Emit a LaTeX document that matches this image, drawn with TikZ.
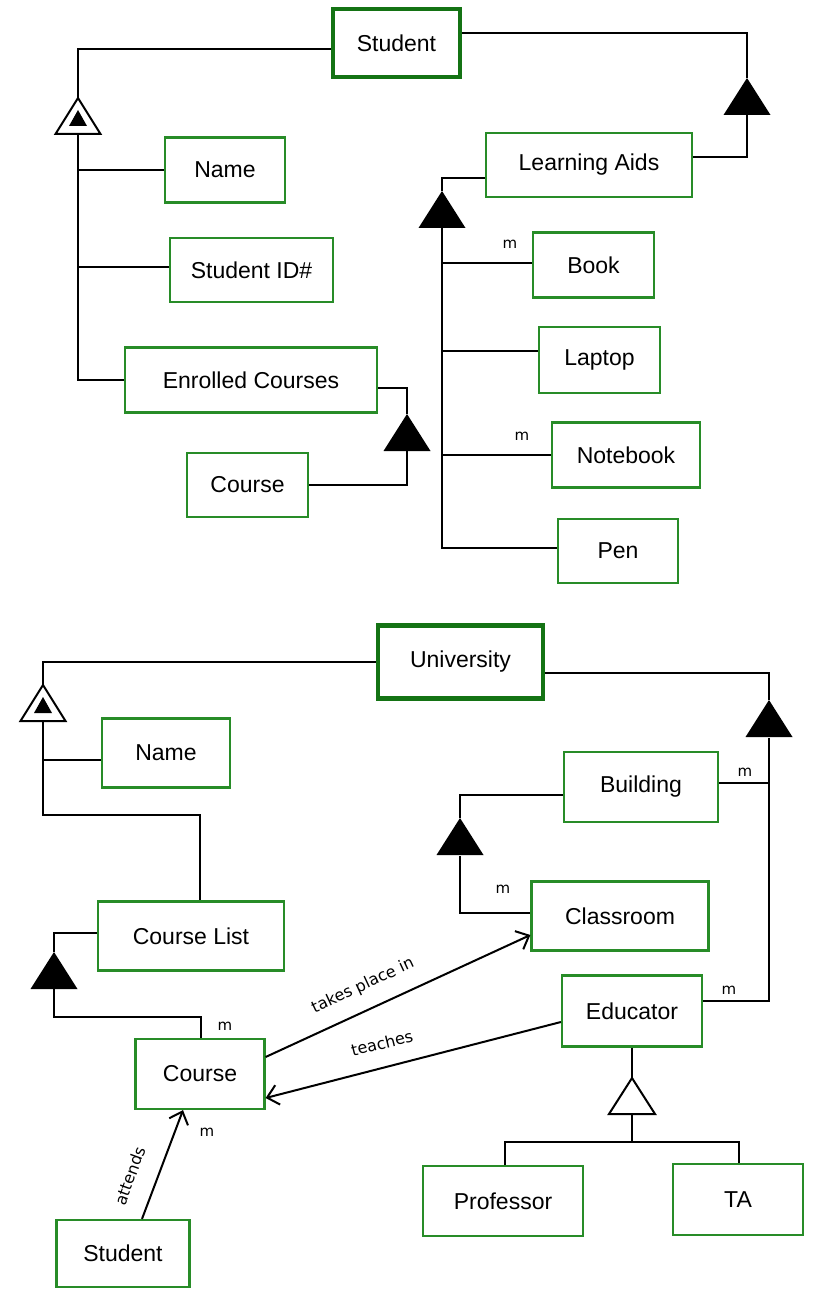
\documentclass[tikz,border=0pt]{standalone}
\usepackage{fontspec}
\setmainfont{Liberation Sans}
\newfontfamily\tagfont{DejaVu Sans}
\usetikzlibrary{arrows.meta}
\definecolor{entgreen}{RGB}{40,140,40}
\definecolor{rootgreen}{RGB}{20,115,20}
\newcommand{\boxfont}{\fontsize{23}{27}\selectfont}
\newcommand{\mfont}{\tagfont\fontsize{15}{18}\selectfont}
\newcommand{\relfont}{\tagfont\fontsize{16}{19}\selectfont}
\begin{document}
\begin{tikzpicture}[x=1pt,y=-1pt,
  ent/.style 2 args={draw=entgreen, line width=2.2pt, fill=white, inner sep=0pt,
    minimum width=#1pt, minimum height=#2pt, font=\boxfont},
  root/.style 2 args={ent={#1}{#2}, draw=rootgreen, line width=4.5pt},
  link/.style={line width=2pt, black},
  arr/.style={link, -{Straight Barb[length=11pt,width=20pt]}},
  mult/.style={font=\mfont, inner sep=0pt},
  rel/.style={font=\relfont, inner sep=0pt},
  solidtri/.pic={\fill[black] (0,0) -- (-23.5,37) -- (23.5,37) -- cycle;},
  opentri/.pic={\draw[line width=2pt, fill=white, line join=miter] (0,0) -- (-23,36) -- (23,36) -- cycle;},
  doubletri/.pic={\draw[line width=2pt, fill=white, line join=miter] (0,0) -- (-22.5,36) -- (22.5,36) -- cycle;
                  \fill[black] (0,12) -- (-9,28) -- (9,28) -- cycle;}
]
\useasboundingbox (0,0) rectangle (815,1289);

% ---------------- Student aggregate ----------------
\node[root={127}{68}] (stuA) at (396.5,43) {Student};
\node[ent={120}{65}] (nameA) at (225,170) {Name};
\node[ent={163}{64}] (sid) at (251.5,270) {Student ID\#};
\node[ent={252}{65}] (enr) at (251,380) {Enrolled Courses};
\node[ent={121}{64}] (crsA) at (247.5,485) {Course};
\node[ent={206}{64}] (la) at (589,165) {Learning Aids};
\node[ent={121}{65}] (book) at (593.5,265) {Book};
\node[ent={121}{66}] (laptop) at (599.5,360) {Laptop};
\node[ent={148}{65}] (notebook) at (626,455) {Notebook};
\node[ent={120}{64}] (pen) at (618,551) {Pen};

\coordinate (t1) at (78,98);   \coordinate (t1b) at (78,134);
\coordinate (t2) at (407,414); \coordinate (t2b) at (407,451);
\coordinate (t3) at (747,78);  \coordinate (t3b) at (747,115);
\coordinate (t4) at (442,191); \coordinate (t4b) at (442,228);

\draw[link] ([yshift=-6pt]stuA.west) -| (t1);
\draw[link] (t1b) -- (enr.west -| t1b) -- (enr.west);
\draw[link] (nameA.west -| t1b) -- (nameA.west);
\draw[link] ([yshift=3pt]sid.west -| t1b) -- ([yshift=3pt]sid.west);
\draw[link] ([yshift=-8pt]enr.east) -| (t2);
\draw[link] (crsA.east) -| (t2b);
\draw[link] ([yshift=10pt]stuA.east) -| (t3);
\draw[link] (t3b) |- ([yshift=8pt]la.east);
\draw[link] ([yshift=-13pt]la.west) -| (t4);
\draw[link] (t4b) -- ([yshift=3pt]pen.west -| t4b) -- ([yshift=3pt]pen.west);
\draw[link] ([yshift=2pt]book.west -| t4b) -- ([yshift=2pt]book.west);
\draw[link] ([yshift=9pt]laptop.west -| t4b) -- ([yshift=9pt]laptop.west);
\draw[link] (notebook.west -| t4b) -- (notebook.west);

\pic at (t1) {doubletri};
\pic at (t2) {solidtri};
\pic at (t3) {solidtri};
\pic at (t4) {solidtri};

\node[mult] (mBook) at (510,244) {m};
\node[mult] (mNote) at (522,436) {m};

% ---------------- University aggregate ----------------
\node[root={165}{73}] (uni) at (460.5,662) {University};
\node[ent={128}{69}] (nameB) at (166,753) {Name};
\node[ent={186}{69}] (clist) at (191,936) {Course List};
\node[ent={129}{70}] (crsB) at (200,1074) {Course};
\node[ent={133}{67}] (stuB) at (123,1253.5) {Student};
\node[ent={154}{70}] (bldg) at (641,787) {Building};
\node[ent={177}{69}] (class) at (620,916) {Classroom};
\node[ent={140}{71}] (edu) at (632,1011) {Educator};
\node[ent={160}{70}] (prof) at (503,1201) {Professor};
\node[ent={130}{71}] (ta) at (738,1199.5) {TA};

\coordinate (t5) at (43,685);  \coordinate (t5b) at (43,721);
\coordinate (t6) at (769,700); \coordinate (t6b) at (769,738);
\coordinate (t7) at (460,818); \coordinate (t7b) at (460,856);
\coordinate (t8) at (54,952);  \coordinate (t8b) at (54,989);
\coordinate (t9) at (632,1078); \coordinate (t9b) at (632,1113);
\coordinate (split) at (632,1142);
\coordinate (cl) at (43,815);
\coordinate (cs) at (201,1017);

\draw[link] (uni.west) -| (t5);
\draw[link] (t5b) -- (cl) -| ([xshift=9pt]clist.north);
\draw[link] ([yshift=-7pt]nameB.west -| t5b) -- ([yshift=-7pt]nameB.west);
\draw[link] ([yshift=-11pt]uni.east) -| (t6);
\draw[link] (t6b) |- ([yshift=10pt]edu.east);
\draw[link] ([yshift=4pt]bldg.east -| t6b) -- ([yshift=4pt]bldg.east);
\draw[link] ([yshift=-8pt]bldg.west) -| (t7);
\draw[link] (t7b) |- ([yshift=3pt]class.west);
\draw[link] ([yshift=3pt]clist.west) -| (t8);
\draw[link] (t8b) |- (cs) -- ([xshift=1pt]crsB.north);
\draw[link] (edu.south) -- (t9);
\draw[link, line width=2.8pt] (t9b) -- (split);
\draw[link] ([xshift=2pt]prof.north) |- (split) -| ([xshift=1pt]ta.north);

\pic at (t5) {doubletri};
\pic at (t6) {solidtri};
\pic at (t7) {solidtri};
\pic at (t8) {solidtri};
\pic at (t9) {opentri};

% relationships
\draw[arr] ([yshift=17pt]crsB.east) -- ([yshift=-19pt]class.west);
\draw[arr] ([yshift=-11pt]edu.west) -- ([yshift=-24pt]crsB.east);
\draw[arr] ([xshift=19pt]stuB.north) -- ([xshift=-17pt]crsB.south);

\node[rel, rotate=25] (lTakes) at (363,986) {takes place in};
\node[rel, rotate=14] (lTeach) at (382,1043) {teaches};
\node[rel, rotate=70] (lAttend) at (130,1176) {attends};

\node[mult] (mBldg) at (745,772) {m};
\node[mult] (mEdu) at (729,990) {m};
\node[mult] (mClass) at (503,889) {m};
\node[mult] (mList) at (225,1026) {m};
\node[mult] (mAtt) at (207,1132) {m};
\end{tikzpicture}
\end{document}
